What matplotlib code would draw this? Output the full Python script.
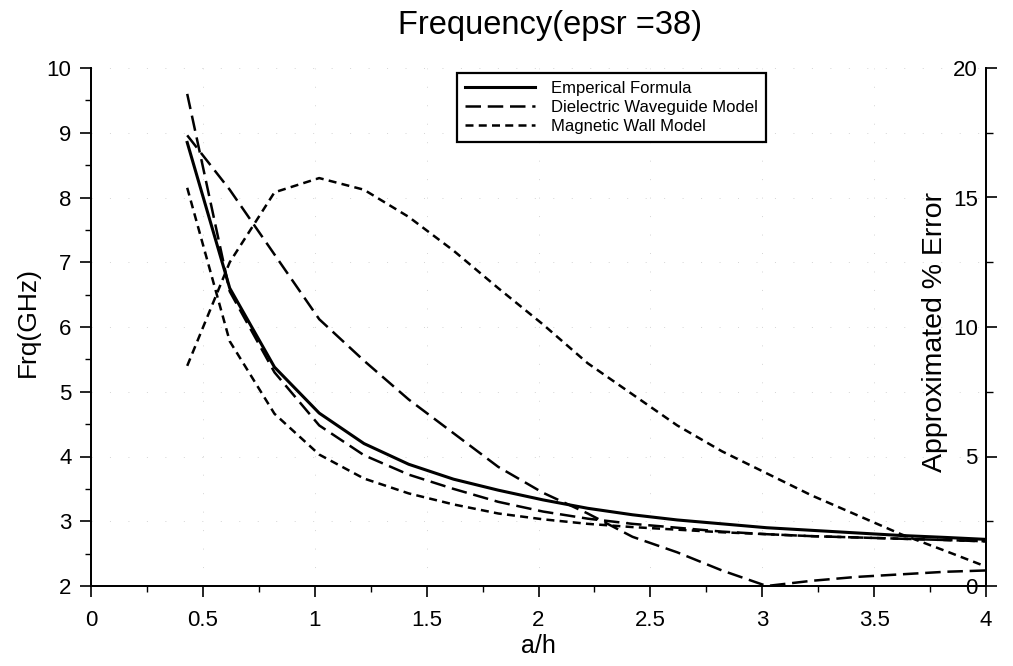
import matplotlib
matplotlib.use("Agg")
import matplotlib.pyplot as plt
from matplotlib.ticker import MultipleLocator, FixedLocator

plt.rcParams['font.family'] = ['Liberation Sans', 'DejaVu Sans']

# ---- data ----
a_h = [0.43, 0.62, 0.82, 1.02, 1.22, 1.42, 1.62, 1.82, 2.02, 2.22,
       2.42, 2.62, 2.82, 3.02, 3.22, 3.42, 3.62, 3.82, 4.0]

freq_empirical = [8.85, 6.60, 5.38, 4.67, 4.20, 3.88, 3.65, 3.48, 3.33, 3.20,
                  3.10, 3.02, 2.96, 2.90, 2.86, 2.82, 2.78, 2.75, 2.72]
freq_dielectric = [9.60, 6.55, 5.30, 4.48, 4.02, 3.72, 3.50, 3.30, 3.15, 3.04,
                   2.96, 2.90, 2.84, 2.80, 2.77, 2.75, 2.73, 2.71, 2.69]
freq_magnetic = [8.15, 5.78, 4.66, 4.03, 3.66, 3.43, 3.26, 3.12, 3.03, 2.96,
                 2.91, 2.87, 2.83, 2.80, 2.77, 2.75, 2.73, 2.71, 2.69]

err_dielectric = [17.4, 15.3, 12.8, 10.3, 8.7, 7.2, 5.9, 4.6, 3.6, 2.8,
                  1.9, 1.3, 0.6, 0.0, 0.2, 0.35, 0.45, 0.55, 0.6]
err_magnetic = [8.5, 12.5, 15.2, 15.75, 15.3, 14.25, 12.95, 11.5, 10.1, 8.6,
                7.4, 6.2, 5.2, 4.35, 3.5, 2.75, 2.0, 1.35, 0.75]

labels = ["Emperical Formula", "Dielectric Waveguide Model", "Magnetic Wall Model"]
title = "Frequency(epsr =38)"
x_ticks = [0, 0.5, 1, 1.5, 2, 2.5, 3, 3.5, 4]
x_ticklabels = ["0", "0.5", "1", "1.5", "2", "2.5", "3", "3.5", "4"]
left_ticks = [2, 3, 4, 5, 6, 7, 8, 9, 10]
right_ticks = [0, 5, 10, 15, 20]

# ---- styles ----
LONG = (0, (6.2, 2.7))
SHORT = (0, (3.2, 2.1))

fig = plt.figure(figsize=(10.13, 6.66), dpi=100)
ax = fig.add_axes([91 / 1013, 1 - 586 / 666, 895 / 1013, 518 / 666])
ax2 = ax.twinx()

l1, = ax.plot(a_h, freq_empirical, color='black', lw=2.2, ls='-', label=labels[0])
l2, = ax.plot(a_h, freq_dielectric, color='black', lw=1.8, ls=LONG, label=labels[1])
l3, = ax.plot(a_h, freq_magnetic, color='black', lw=1.8, ls=SHORT, label=labels[2])
ax2.plot(a_h, err_dielectric, color='black', lw=1.8, ls=LONG)
ax2.plot(a_h, err_magnetic, color='black', lw=1.8, ls=SHORT)

ax.set_xlim(0, 4)
ax.set_ylim(2, 10)
ax2.set_ylim(0, 20)

ax.xaxis.set_major_locator(FixedLocator(x_ticks))
ax.set_xticklabels(x_ticklabels)
ax.xaxis.set_minor_locator(MultipleLocator(0.25))
ax.yaxis.set_major_locator(FixedLocator(left_ticks))
ax.yaxis.set_minor_locator(MultipleLocator(0.5))
ax2.yaxis.set_major_locator(FixedLocator(right_ticks))
ax2.yaxis.set_minor_locator(MultipleLocator(2.5))

# faint sparse grid as in the scan
ax.grid(True, which='major', color='#d4d4d4', lw=0.7, ls=(0, (1, 18)))

for a in (ax, ax2):
    a.spines['top'].set_visible(False)
    for s in a.spines.values():
        s.set_linewidth(1.3)

ax.tick_params(axis='both', which='major', direction='out', length=8, width=1.2,
               labelsize=16, colors='black')
ax.tick_params(axis='both', which='minor', direction='out', length=4, width=1.0)
ax.tick_params(axis='y', which='major', pad=6)
ax.tick_params(axis='x', which='major', pad=9)

ax2.tick_params(axis='y', which='major', direction='out', length=8, width=1.2,
                labelsize=16, pad=-(8 + 6))
ax2.tick_params(axis='y', which='minor', direction='out', length=5, width=1.0)
for lbl in ax2.get_yticklabels():
    lbl.set_horizontalalignment('right')

ax.set_ylabel("Frq(GHz)", fontsize=19)
ax.yaxis.set_label_coords(-0.057, 0.51)
ax.set_xlabel("a/h", fontsize=18)
ax.xaxis.set_label_coords(0.5, -0.093)
ax2.set_ylabel("Approximated % Error", fontsize=20.5)
ax2.yaxis.set_label_coords(0.929, 0.49)

fig.text(550 / 1013, 1 - 34 / 666, title, ha='center', va='baseline', fontsize=23.5)

leg = ax.legend(handles=[l1, l2, l3], loc='upper left', bbox_to_anchor=(0.409, 0.99),
                borderaxespad=0, fontsize=12, handlelength=4.2, handletextpad=1.0,
                labelspacing=0.25, borderpad=0.45, fancybox=False, framealpha=1,
                edgecolor='black')
leg.get_frame().set_linewidth(1.6)

fig.savefig("out.png", dpi=100)
